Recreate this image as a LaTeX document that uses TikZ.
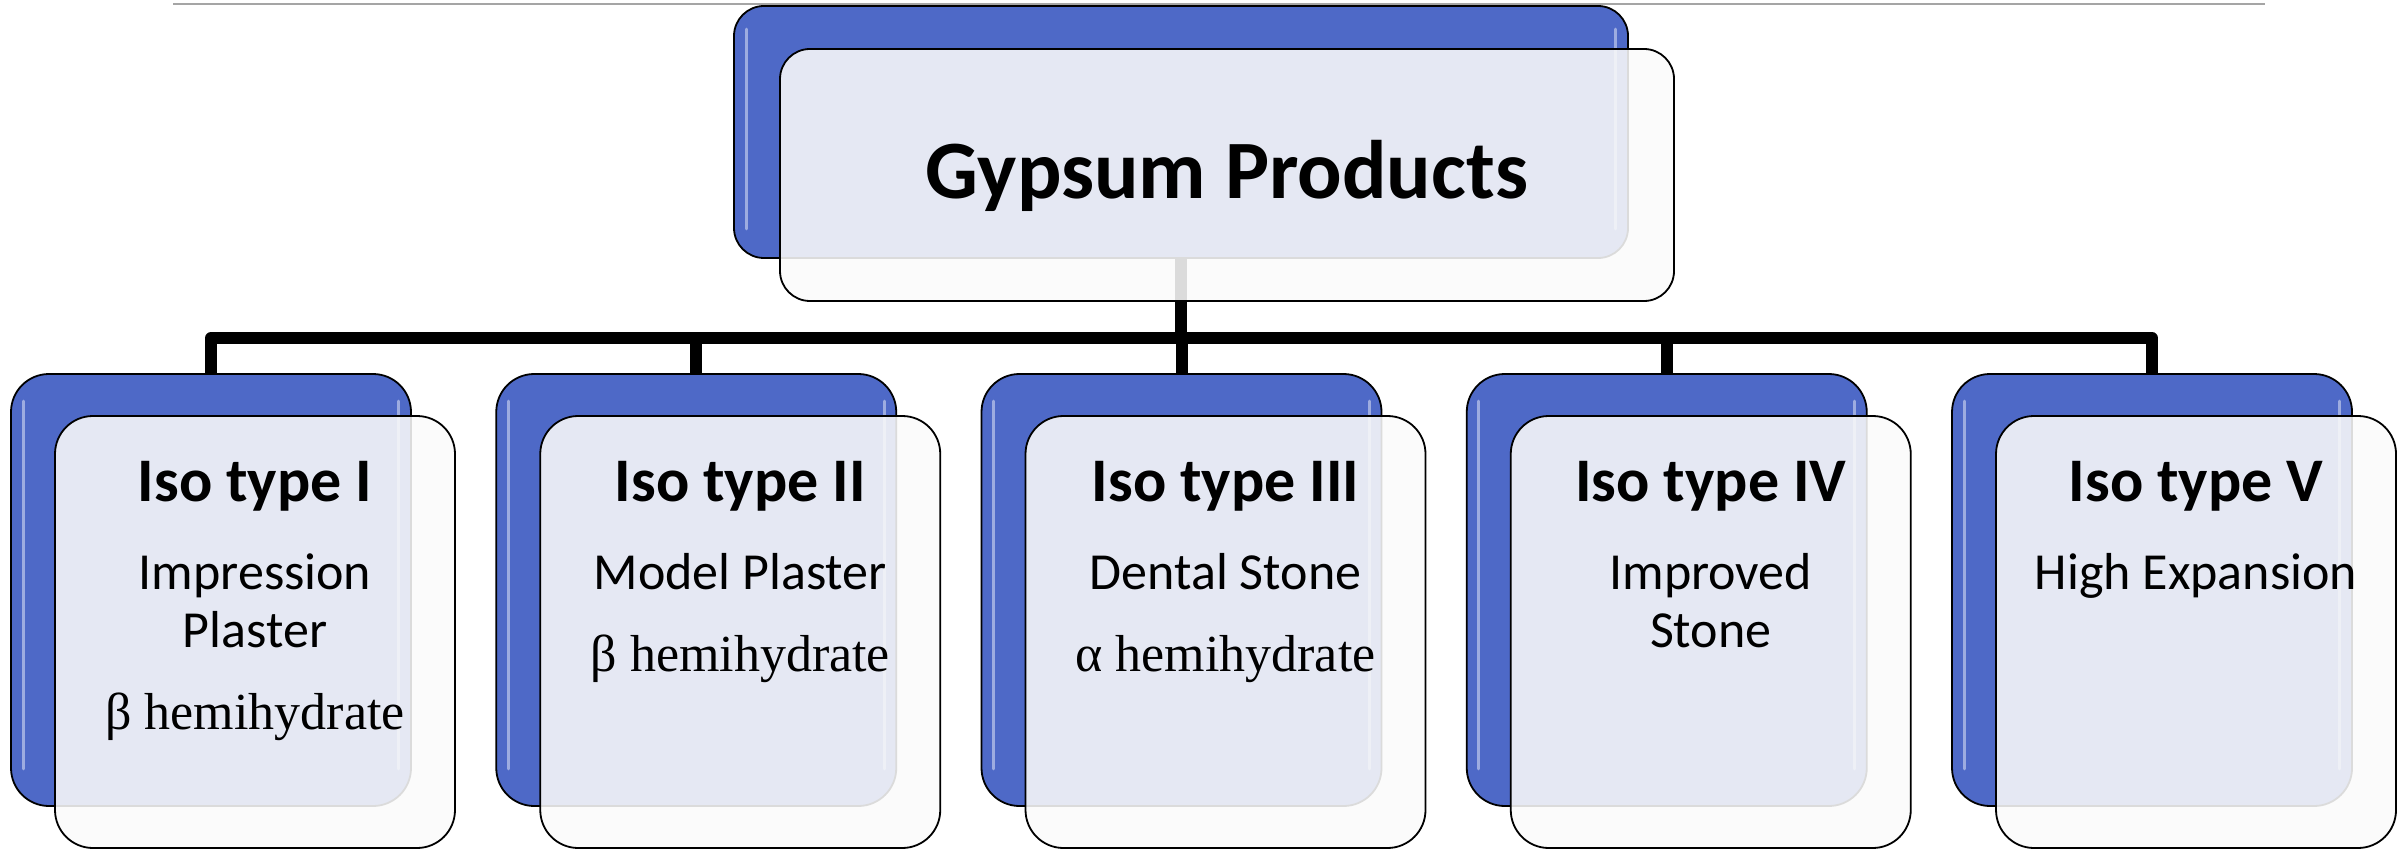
\documentclass[tikz,border=0pt]{standalone}
\usepackage{fontspec}
\setmainfont{Carlito}
\newfontfamily\hemifont{Liberation Serif}
\usetikzlibrary{positioning,backgrounds}

\definecolor{gpblue}{RGB}{78,105,199}
\definecolor{gpcard}{RGB}{250,250,250}
\definecolor{gprule}{RGB}{165,165,165}

\begin{document}
\begin{tikzpicture}
        [ x=1pt, y=-1pt,
          every node/.style = {inner sep=0pt},
          shadow box/.style = {draw=black, line width=1.8pt, fill=gpblue,
                               rounded corners=38pt, minimum width=400pt,
                               minimum height=432pt},
          card box/.style = {draw=black, line width=1.8pt, fill=gpcard,
                             fill opacity=0.88, rounded corners=38pt,
                             minimum width=400pt, minimum height=432pt},
          top size/.style = {rounded corners=30pt, minimum width=894pt,
                             minimum height=252pt},
          gloss/.style = {draw=white, draw opacity=0.45, line width=3pt,
                          line cap=round},
          link/.style = {draw=black, line width=12pt, line join=round},
          kind text/.style = {anchor=base, font=\bfseries\fontsize{62}{70}\selectfont},
          desc text/.style = {anchor=north, align=center,
                              font=\fontsize{52}{58}\selectfont}]
        \useasboundingbox (0,0) rectangle (2408,850);

        % rule at the top of the page
        \coordinate (rule west) at (173,4);
        \coordinate (rule east) at (2265,4);
        \draw[gprule, line width=2.5pt] (rule west) -- (rule east);

        % root
        \node[shadow box, top size] (top) at (1181,132) {};
        \draw[gloss] ([shift={(13,24)}]top.north west) -- ([shift={(13,-30)}]top.south west);
        \draw[gloss] ([shift={(-13,24)}]top.north east) -- ([shift={(-13,-30)}]top.south east);
        \node[card box, top size] (top card) at ([shift={(46,43)}]top.center) {};
        \node[anchor=base, font=\bfseries\fontsize{83}{98}\selectfont] (top title)
            at ([shift={(0,24)}]top card.center) {Gypsum Products};

        % the five types
        \foreach \i/\kind/\desc in {
            1/{Iso type I}/{Impression\\Plaster\\[24pt]{\hemifont β hemihydrate}},
            2/{Iso type II}/{Model Plaster\\[24pt]{\hemifont β hemihydrate}},
            3/{Iso type III}/{Dental Stone\\[24pt]{\hemifont α hemihydrate}},
            4/{Iso type IV}/{Improved\\Stone},
            5/{Iso type V}/{High Expansion}}
        {
            \node[shadow box] (type\i) at ({211+485.25*(\i-1)},590) {};
            \draw[gloss] ([shift={(13,28)}]type\i.north west) -- ([shift={(13,-38)}]type\i.south west);
            \draw[gloss] ([shift={(-13,28)}]type\i.north east) -- ([shift={(-13,-38)}]type\i.south east);
            \node[card box] (card\i) at ([shift={(44,42)}]type\i.center) {};
            \node[kind text] (kind\i) at ([shift={(0,86)}]card\i.north) {\kind};
            % first line held at a fixed height so every baseline sits 174pt below the card top
            \node[desc text] (desc\i) at ([shift={(0,132)}]card\i.north)
                {\rule{0pt}{42pt}\desc};
        }

        % connectors behind the boxes
        \coordinate (bar) at (top.center |- 0,338);
        \begin{pgfonlayer}{background}
            \draw[link] (top.center) -- (bar);
            \foreach \i in {1,...,5}
                \draw[link] (bar) -| (type\i.north);
        \end{pgfonlayer}
    \end{tikzpicture}
\end{document}
